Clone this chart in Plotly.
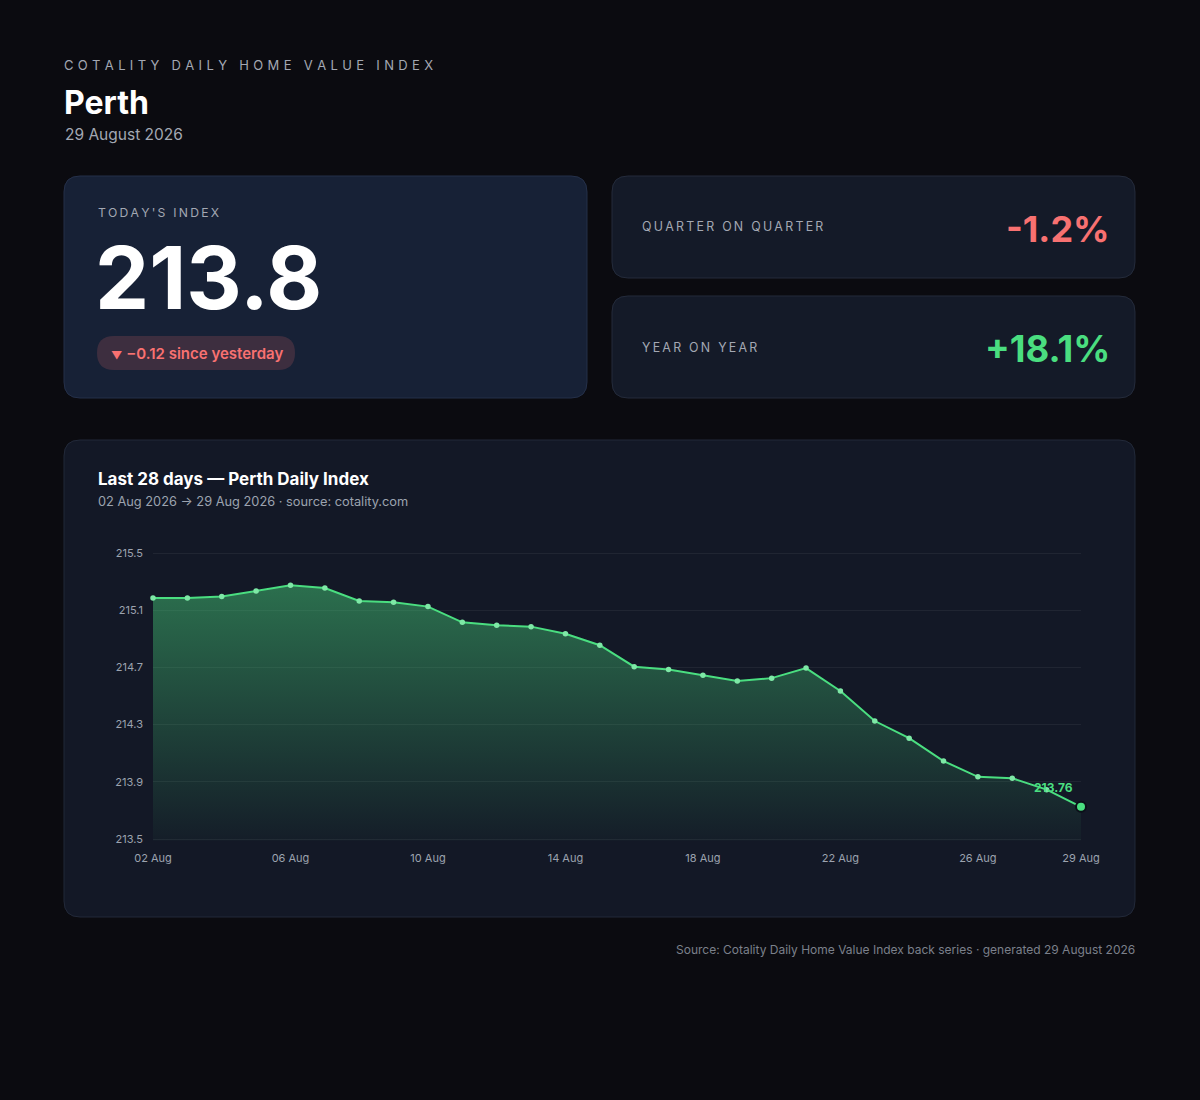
import numpy as np
import plotly.graph_objects as go

# daily index, last 28 days (Perth)
DATES = [
    "2026-08-02", "2026-08-03", "2026-08-04", "2026-08-05", "2026-08-06", "2026-08-07", "2026-08-08",
    "2026-08-09", "2026-08-10", "2026-08-11", "2026-08-12", "2026-08-13", "2026-08-14", "2026-08-15",
    "2026-08-16", "2026-08-17", "2026-08-18", "2026-08-19", "2026-08-20", "2026-08-21", "2026-08-22",
    "2026-08-23", "2026-08-24", "2026-08-25", "2026-08-26", "2026-08-27", "2026-08-28", "2026-08-29",
]
INDEX = [
    215.22, 215.22, 215.23, 215.27, 215.31, 215.29, 215.20,
    215.19, 215.16, 215.05, 215.03, 215.02, 214.97, 214.89,
    214.74, 214.72, 214.68, 214.64, 214.66, 214.73, 214.57,
    214.36, 214.24, 214.08, 213.97, 213.96, 213.88, 213.76,
]
TICK_DATES = ["2026-08-02", "2026-08-06", "2026-08-10", "2026-08-14",
              "2026-08-18", "2026-08-22", "2026-08-26", "2026-08-29"]

CITY = "Perth"
AS_OF = "29 August 2026"
TODAY = 213.8
DAY_CHANGE = -0.12
QOQ = -1.2
YOY = 18.1

W, H = 1200, 1100
FONT = "Inter"
BG = "#0b0b10"
GREEN = "#4ade80"
RED = "#f87171"
MUTED = "#a3a8b3"


def px(x):
    return x / W


def py(y):
    return 1 - y / H


def rrect(x0, y0, x1, y1, r):
    # rounded rectangle as an svg path in paper coords (input in pixels)
    p = lambda x, y: f"{px(x):.5f},{py(y):.5f}"
    return (f"M {p(x0 + r, y0)} L {p(x1 - r, y0)} Q {p(x1, y0)} {p(x1, y0 + r)} "
            f"L {p(x1, y1 - r)} Q {p(x1, y1)} {p(x1 - r, y1)} "
            f"L {p(x0 + r, y1)} Q {p(x0, y1)} {p(x0, y1 - r)} "
            f"L {p(x0, y0 + r)} Q {p(x0, y0)} {p(x0 + r, y0)} Z")


def spaced(s, gap="\u2009"):
    return gap.join(s)


fig = go.Figure()

tick_lo, tick_hi = 213.535, 215.535
y_range = [tick_lo - 0.01, tick_hi + 0.01]

fig.add_trace(go.Scatter(
    x=DATES, y=INDEX,
    mode="lines+markers",
    line=dict(color=GREEN, width=2),
    marker=dict(size=5.5, color="#7ee8a6"),
    fill="tozeroy",
    fillgradient=dict(type="vertical",
                      colorscale=[[0, "rgba(74,222,128,0.03)"], [1, "rgba(74,222,128,0.44)"]],
                      start=tick_lo, stop=max(INDEX)),
    cliponaxis=False,
    hoverinfo="x+y",
    showlegend=False,
))

# highlight last point
fig.add_trace(go.Scatter(
    x=DATES[-1:], y=INDEX[-1:],
    mode="markers",
    marker=dict(size=10, color=GREEN, line=dict(color="#0b0f18", width=2)),
    cliponaxis=False,
    showlegend=False, hoverinfo="skip",
))

fig.update_xaxes(
    type="date",
    range=[DATES[0], DATES[-1]],
    tickvals=TICK_DATES,
    tickformat="%d %b",
    showgrid=False, zeroline=False, showline=False,
    tickfont=dict(family=FONT, size=11, color="#9ca3af"),
    ticklabelstandoff=10,
    automargin=False,
    domain=[px(153), px(1081)],
)
fig.update_yaxes(
    range=y_range,
    tickvals=np.linspace(tick_lo, tick_hi, 6),
    tickformat=".1f",
    showgrid=True, gridcolor="rgba(255,255,255,0.06)", gridwidth=1,
    zeroline=False, showline=False,
    tickfont=dict(family=FONT, size=11, color="#9ca3af"),
    ticklabelstandoff=9,
    automargin=False,
    domain=[py(839) - 0.01 * 143 / H, py(553) + 0.01 * 143 / H],
)

# cards
shapes = [
    dict(type="path", path=rrect(64, 176, 587, 398, 16), fillcolor="#172136",
         line=dict(color="#253049", width=1)),
    dict(type="path", path=rrect(612, 176, 1135, 278, 16), fillcolor="#141a28",
         line=dict(color="#242b3b", width=1)),
    dict(type="path", path=rrect(612, 296, 1135, 398, 16), fillcolor="#141a28",
         line=dict(color="#242b3b", width=1)),
    dict(type="path", path=rrect(64, 440, 1135, 917, 16), fillcolor="#131826",
         line=dict(color="#222939", width=1)),
    dict(type="path", path=rrect(97, 336, 295, 370, 17), fillcolor="rgba(248,113,113,0.17)",
         line=dict(width=0)),
]
for s in shapes:
    s.update(xref="paper", yref="paper", layer="below")

annotations = []


def text(x, y, s, size, color, anchor="left", weight=400):
    annotations.append(dict(
        x=px(x), y=py(y), xref="paper", yref="paper", text=s, showarrow=False,
        xanchor=anchor, yanchor="middle",
        font=dict(family=FONT, size=size, color=color, weight=weight),
    ))


text(62, 65, spaced("COTALITY DAILY HOME VALUE INDEX", "\u2004"), 13, MUTED)
text(62, 102, CITY, 32, "#ffffff", weight=700)
text(63, 134, AS_OF, 15.5, MUTED)

text(96, 212, spaced("TODAY'S INDEX"), 12.2, MUTED)
text(93, 278, f"{TODAY:.1f}", 86, "#ffffff", weight=700)
arrow = "\u25bc" if DAY_CHANGE < 0 else "\u25b2"
text(109, 353, f"<span style='font-size:11px'>{arrow}</span> \u2212{abs(DAY_CHANGE):.2f} since yesterday",
     15, RED, weight=600)

text(640, 227, spaced("QUARTER ON QUARTER"), 12.4, MUTED)
text(1112, 229, f"{QOQ:+.1f}%", 36, RED, anchor="right", weight=700)
text(640, 347, spaced("YEAR ON YEAR"), 12.4, MUTED)
text(1112, 349, f"{YOY:+.1f}%", 36.5, GREEN, anchor="right", weight=700)

text(96, 479, f"Last 28 days \u2014 {CITY} Daily Index", 17, "#ffffff", weight=700)
text(96, 501, "02 Aug 2026 \u2192 29 Aug 2026 \u00b7 source: cotality.com", 12.8, "#9ca3af")

text(1137, 949, f"Source: Cotality Daily Home Value Index back series \u00b7 generated {AS_OF}",
     12, "#7b808b", anchor="right")

# end label on the last point
annotations.append(dict(
    x=DATES[-1], y=INDEX[-1], xref="x", yref="y", text=f"<b>{INDEX[-1]:.2f}</b>",
    showarrow=False, xanchor="right", yanchor="bottom", xshift=-6, yshift=10,
    font=dict(family=FONT, size=12, color=GREEN),
))

fig.update_layout(
    width=W, height=H,
    margin=dict(l=0, r=0, t=0, b=0, pad=0, autoexpand=False),
    paper_bgcolor=BG, plot_bgcolor="rgba(0,0,0,0)",
    shapes=shapes, annotations=annotations,
    font=dict(family=FONT),
)

fig.write_html("out.html", config={"displayModeBar": False},
               post_script="document.body.style.margin='0';document.body.style.overflow='hidden';")
